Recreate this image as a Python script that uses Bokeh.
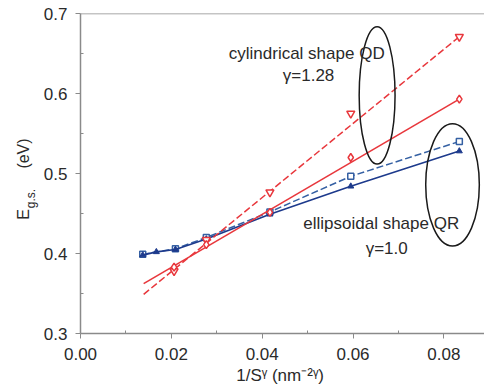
from math import pi
from bokeh.plotting import figure
from bokeh.layouts import row
from bokeh.core.properties import value
from bokeh.models import Label, Span, FixedTicker, NumeralTickFormatter, Range1d
from bokeh.embed import file_html
from bokeh.resources import INLINE

# ---- data ----
# cylindrical shape QD (red)
qd_dash_x = [0.0206, 0.0277, 0.0417, 0.0595, 0.0834]
qd_dash_y = [0.378, 0.417, 0.4765, 0.575, 0.671]
qd_solid_x = [0.0206, 0.0277, 0.0417, 0.0595, 0.0834]
qd_solid_y = [0.383, 0.411, 0.4514, 0.520, 0.593]
qd_dash_fit_x = [0.0139, 0.0834]
qd_dash_fit_y = [0.349, 0.671]
qd_solid_fit_x = [0.0139, 0.0834]
qd_solid_fit_y = [0.3624, 0.593]
# ellipsoidal shape QR (blue)
qr_dash_x = [0.0137, 0.0209, 0.0277, 0.0417, 0.0595, 0.0834]
qr_dash_y = [0.399, 0.406, 0.420, 0.452, 0.4965, 0.540]
qr_solid_x = [0.0137, 0.0167, 0.0209, 0.0277, 0.0417, 0.0595, 0.0834]
qr_solid_y = [0.398, 0.402, 0.405, 0.418, 0.449, 0.484, 0.528]
# ellipses marking the groups
ell_x = [0.0653, 0.0819]
ell_y = [0.5976, 0.4858]
ell_w = [0.0079, 0.0118]
ell_h = [0.1717, 0.1529]
# ticks
x_ticks = [0.00, 0.02, 0.04, 0.06, 0.08]
x_minor = [0.01, 0.03, 0.05, 0.07]
y_ticks = [0.3, 0.4, 0.5, 0.6, 0.7]
y_minor = [0.35, 0.45, 0.55, 0.65]
# texts
ann_text = ["cylindrical shape QD", "\u03b3=1.28", "ellipsoidal shape QR", "\u03b3=1.0"]
ann_x = [0.0498, 0.0502, 0.0662, 0.0674]
ann_y = [0.6503, 0.6227, 0.4372, 0.4059]
ylabel_parts = ["E", "g.s.", "(eV)"]

RED = "#e8373c"
NAVY = "#1d3a8c"
BLUE = "#3560a3"
AX = "#8a8a8a"
TXT = "#2a2a2a"
FONT = "Liberation Sans"

X0, X1 = 0.0, 0.08894
Y0, Y1 = 0.3, 0.7
H = 389
LW = 40          # width of the y-label strip
W = 484 - LW     # width of the main figure
L, T, B = 76 - LW, 13, 333

# ---- y-axis label strip ----
lab = figure(frame_width=LW, frame_height=H, x_range=Range1d(0, LW), y_range=Range1d(H, 0),
             output_backend="svg", toolbar_location=None, title=None,
             x_axis_location=None, y_axis_location=None,
             min_border_left=0, min_border_right=0, min_border_top=0, min_border_bottom=0)
lab.xgrid.visible = False
lab.ygrid.visible = False
lab.outline_line_color = None
lab.border_fill_color = "white"
lab.background_fill_color = "white"
lab_x = [23, 30, 23]
lab_y = [201, 185, 140]
lab_fs = ["16px", "12px", "16px"]
for t, cx, cy, fs in zip(ylabel_parts, lab_x, lab_y, lab_fs):
    lab.text(x=[cx], y=[cy], text=[t], angle=pi / 2, text_align="center",
             text_baseline="middle", text_font=value(FONT), text_font_size=fs,
             text_color=TXT)

# ---- main chart ----
p = figure(width=W, height=H, x_range=Range1d(X0, X1), y_range=Range1d(Y0, Y1),
           output_backend="svg", toolbar_location=None,
           min_border_left=L, min_border_right=0, min_border_top=T, min_border_bottom=H - B)
p.xgrid.visible = False
p.ygrid.visible = False
p.outline_line_color = None
p.background_fill_color = "white"
p.border_fill_color = "white"

for ax in (p.xaxis[0], p.yaxis[0]):
    ax.axis_line_color = AX
    ax.axis_line_width = 1.5
    ax.major_tick_line_color = AX
    ax.minor_tick_line_color = AX
    ax.major_tick_out = 5
    ax.major_tick_in = 0
    ax.minor_tick_out = 0
    ax.minor_tick_in = 3
    ax.major_label_text_font = FONT
    ax.major_label_text_font_size = "17px"
    ax.major_label_text_color = TXT

p.xaxis.ticker = FixedTicker(ticks=x_ticks, minor_ticks=x_minor)
p.yaxis.ticker = FixedTicker(ticks=y_ticks, minor_ticks=y_minor)
p.xaxis.formatter = NumeralTickFormatter(format="0.00")
p.yaxis.formatter = NumeralTickFormatter(format="0.0")
p.xaxis.major_label_standoff = 9
p.yaxis.major_label_standoff = 8
p.xaxis.axis_label = "1/S\u1d5e  (nm\u207b\u00b2\u1d5e)"
p.xaxis.axis_label_text_font = FONT
p.xaxis.axis_label_text_font_style = "normal"
p.xaxis.axis_label_text_font_size = "17px"
p.xaxis.axis_label_text_color = TXT
p.xaxis.axis_label_standoff = 3

p.add_layout(Span(location=Y1, dimension="width", line_color=AX, line_width=1.5))

# blue series
p.line(qr_dash_x, qr_dash_y, line_color=BLUE, line_width=1.5, line_dash="7 3")
p.scatter(qr_dash_x, qr_dash_y, marker="square", size=6, line_color=BLUE, fill_color="white", line_width=1.5)
p.line(qr_solid_x, qr_solid_y, line_color=NAVY, line_width=1.6)
p.scatter(qr_solid_x, qr_solid_y, marker="triangle", size=6, line_color=NAVY, fill_color=NAVY)

# red series
p.line(qd_dash_fit_x, qd_dash_fit_y, line_color=RED, line_width=1.5, line_dash="7 3")
p.scatter(qd_dash_x, qd_dash_y, marker="inverted_triangle", size=8, line_color=RED, fill_color="white", line_width=1.5)
p.line(qd_solid_fit_x, qd_solid_fit_y, line_color=RED, line_width=1.6)
p.scatter(qd_solid_x, qd_solid_y, marker="diamond", size=8, line_color=RED, fill_color="white", line_width=1.5)

# ellipses
p.ellipse(ell_x, ell_y, width=ell_w, height=ell_h, fill_color=None, line_color="#1a1a1a", line_width=1.5)

# annotations
for txt, ax_, ay_ in zip(ann_text, ann_x, ann_y):
    p.add_layout(Label(x=ax_, y=ay_, text=txt, text_align="center", text_baseline="middle",
                       text_font=FONT, text_font_size="17px", text_color=TXT))

layout = row(lab, p, spacing=0)
open("out.html", "w").write(file_html(layout, INLINE))
